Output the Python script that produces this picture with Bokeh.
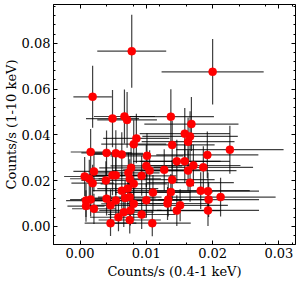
from bokeh.plotting import figure
from bokeh.models import (ColumnDataSource, Range1d, LinearAxis, FixedTicker,
                          PrintfTickFormatter)
from bokeh.embed import file_html
from bokeh.resources import INLINE

# ---- data ----
soft = [0.0078, 0.0019, 0.0049, 0.0067, 0.0071, 0.0085, 0.0200, 0.0137, 0.0168, 0.0158,
        0.0166, 0.0081, 0.0016, 0.0040, 0.0054, 0.0063, 0.0101, 0.0163, 0.0139, 0.0192,
        0.0226, 0.0077, 0.0100, 0.0105, 0.0021, 0.0007, 0.0014, 0.0019, 0.0039, 0.0049,
        0.0054, 0.0073, 0.0075, 0.0081, 0.0093, 0.0063, 0.0110, 0.0009, 0.0016, 0.0009,
        0.0021, 0.0040, 0.0046, 0.0054, 0.0068, 0.0075, 0.0081, 0.0066, 0.0076, 0.0100,
        0.0093, 0.0058, 0.0075, 0.0046, 0.0109, 0.0146, 0.0158, 0.0171, 0.0163, 0.0186,
        0.0127, 0.0139, 0.0166, 0.0137, 0.0182, 0.0193, 0.0212, 0.0194, 0.0133, 0.0132,
        0.0151, 0.0146, 0.0193, 0.0072]
hard = [0.0765, 0.0566, 0.0471, 0.0480, 0.0465, 0.0384, 0.0675, 0.0479, 0.0447, 0.0405,
        0.0393, 0.0359, 0.0325, 0.0321, 0.0319, 0.0314, 0.0308, 0.0370, 0.0356, 0.0312,
        0.0335, 0.0256, 0.0264, 0.0244, 0.0240, 0.0218, 0.0208, 0.0189, 0.0201, 0.0223,
        0.0223, 0.0234, 0.0208, 0.0186, 0.0221, 0.0156, 0.0148, 0.0113, 0.0117, 0.0089,
        0.0077, 0.0121, 0.0092, 0.0113, 0.0124, 0.0128, 0.0099, 0.0062, 0.0070, 0.0114,
        0.0052, 0.0040, 0.0028, 0.0014, 0.0014, 0.0284, 0.0284, 0.0266, 0.0244, 0.0258,
        0.0247, 0.0204, 0.0191, 0.0150, 0.0156, 0.0154, 0.0128, 0.0117, 0.0117, 0.0100,
        0.0092, 0.0069, 0.0070, 0.0165]
soft_err = [0.0052, 0.0029, 0.0040, 0.0046, 0.0045, 0.0050, 0.0077, 0.0065, 0.0071, 0.0068,
            0.0072, 0.0049, 0.0030, 0.0038, 0.0041, 0.0043, 0.0055, 0.0070, 0.0064, 0.0077,
            0.0081, 0.0048, 0.0054, 0.0056, 0.0031, 0.0031, 0.0029, 0.0032, 0.0037, 0.0040,
            0.0042, 0.0047, 0.0047, 0.0050, 0.0052, 0.0044, 0.0057, 0.0030, 0.0031, 0.0028,
            0.0033, 0.0038, 0.0039, 0.0042, 0.0046, 0.0048, 0.0049, 0.0045, 0.0047, 0.0054,
            0.0051, 0.0043, 0.0047, 0.0039, 0.0058, 0.0066, 0.0068, 0.0071, 0.0073, 0.0075,
            0.0062, 0.0064, 0.0066, 0.0063, 0.0074, 0.0077, 0.0083, 0.0076, 0.0062, 0.0061,
            0.0072, 0.0065, 0.0077, 0.0046]
hard_err = [0.0159, 0.0135, 0.0125, 0.0118, 0.0122, 0.0108, 0.0143, 0.0120, 0.0118, 0.0112,
            0.0110, 0.0105, 0.0100, 0.0098, 0.0101, 0.0097, 0.0099, 0.0106, 0.0104, 0.0102,
            0.0105, 0.0090, 0.0092, 0.0089, 0.0088, 0.0085, 0.0083, 0.0080, 0.0084, 0.0087,
            0.0086, 0.0088, 0.0085, 0.0082, 0.0087, 0.0078, 0.0077, 0.0072, 0.0074, 0.0069,
            0.0066, 0.0073, 0.0070, 0.0072, 0.0074, 0.0075, 0.0071, 0.0065, 0.0066, 0.0073,
            0.0063, 0.0061, 0.0059, 0.0056, 0.0057, 0.0094, 0.0093, 0.0091, 0.0089, 0.0092,
            0.0090, 0.0086, 0.0083, 0.0079, 0.0080, 0.0081, 0.0085, 0.0076, 0.0074, 0.0072,
            0.0070, 0.0067, 0.0068, 0.0079]

x_ticks = [0.0, 0.01, 0.02, 0.03]
y_ticks = [0.0, 0.02, 0.04, 0.06, 0.08]
x_minor = [round(-0.004 + 0.004 * i, 3) for i in range(10)]
y_minor = [round(-0.004 + 0.004 * i, 3) for i in range(26)]

FONT = "DejaVu Serif"
X0, X1 = -0.004, 0.0325
Y0, Y1 = -0.0079, 0.0969

src = ColumnDataSource(dict(
    x=soft, y=hard,
    x0=[a - e for a, e in zip(soft, soft_err)], x1=[a + e for a, e in zip(soft, soft_err)],
    y0=[a - e for a, e in zip(hard, hard_err)], y1=[a + e for a, e in zip(hard, hard_err)],
))

p = figure(width=299, height=282, output_backend="svg", toolbar_location=None,
           x_range=Range1d(X0, X1), y_range=Range1d(Y0, Y1),
           x_axis_label="Counts/s (0.4-1 keV)", y_axis_label="Counts/s (1-10 keV)",
           min_border_left=53, min_border_right=4, min_border_top=4, min_border_bottom=38)
p.grid.visible = False
p.outline_line_color = "black"
p.outline_line_width = 1
p.background_fill_color = "white"
p.border_fill_color = "white"

p.segment(x0="x0", y0="y", x1="x1", y1="y", source=src, line_color="black",
          line_alpha=0.75, line_width=1.2)
p.segment(x0="x", y0="y0", x1="x", y1="y1", source=src, line_color="black",
          line_alpha=0.75, line_width=1.2)
p.scatter("x", "y", source=src, size=8, fill_color="red", line_color="red", line_width=0.6)

top_axis = LinearAxis(fixed_location=Y1)
right_axis = LinearAxis(fixed_location=X1)
p.add_layout(top_axis, "above")
p.add_layout(right_axis, "right")

for ax in p.xaxis:
    ax.ticker = FixedTicker(ticks=x_ticks, minor_ticks=x_minor)
for ax in p.yaxis:
    ax.ticker = FixedTicker(ticks=y_ticks, minor_ticks=y_minor)

for ax in p.axis:
    ax.formatter = PrintfTickFormatter(format="%.2f")
    ax.major_tick_in = 4
    ax.major_tick_out = 0
    ax.minor_tick_in = 2
    ax.minor_tick_out = 0
    ax.axis_line_color = "black"
    ax.major_tick_line_color = "black"
    ax.minor_tick_line_color = "black"
    ax.major_label_text_font = FONT
    ax.major_label_text_font_size = "13px"
    ax.major_label_text_color = "black"
    ax.axis_label_text_font = FONT
    ax.axis_label_text_font_size = "13px"
    ax.axis_label_text_font_style = "normal"
    ax.axis_label_text_color = "black"

for ax in (top_axis, right_axis):
    ax.major_label_text_color = None
    ax.axis_label = None

p.below[0].major_label_standoff = 3
p.below[0].axis_label_standoff = 3
p.left[0].major_label_standoff = 3
p.left[0].axis_label_standoff = 0

open("out.html", "w").write(file_html(p, INLINE))
